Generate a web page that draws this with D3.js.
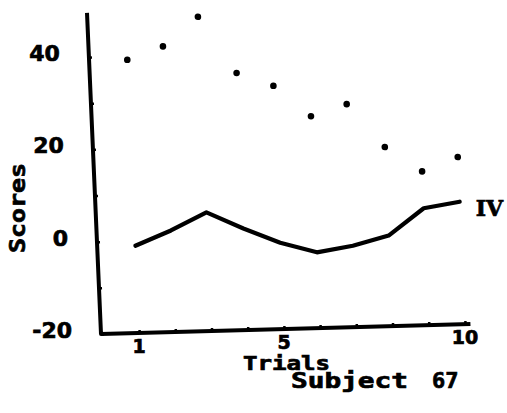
<!DOCTYPE html>
<html>
<head>
<meta charset="utf-8">
<script src="https://cdn.jsdelivr.net/npm/d3@7"></script>
<style>
  body { margin: 0; background: #fff; }
  svg { display: block; }
  text { fill: #000; stroke: #000; stroke-width: 0.7px; }
</style>
</head>
<body>
<div id="chart"></div>
<script>
// trial numbers and the two series
const trials = [1, 2, 3, 4, 5, 6, 7, 8, 9, 10];
const dotScores = [39.2, 41.9, 48.1, 35.7, 32.7, 25.9, 28.3, 18.8, 13.3, 16.2];
const lineScores = [-1.1, 2.0, 5.7, 2.0, -1.3, -3.6, -2.4, -0.4, 5.3, 6.5];
const yTicks = [-20, -10, 0, 10, 20, 30, 40];
const yLabels = [-20, 0, 20, 40];
const xLabels = [1, 5, 10];

const width = 507, height = 413;
// the scanned axes are a bit skewed, so everything is drawn in a sheared frame
const ox = 101, oy = 334, kx = 0.0436, ky = -0.0274;
const toPage = (u, v) => [ox + u + kx * v, oy + ky * u + v];

const x = d3.scaleLinear().domain([0, 10]).range([2, 364]);
const y = d3.scaleLinear().domain([-20, 50]).range([0, -323]);

const svg = d3.select("#chart").append("svg")
    .attr("width", width)
    .attr("height", height);

const plot = svg.append("g")
    .attr("transform", `matrix(1, ${ky}, ${kx}, 1, ${ox}, ${oy})`);

// tick nubs only, labels go on separately so the text is not sheared
plot.append("g")
    .call(d3.axisBottom(x).tickValues(trials).tickSize(-3).tickFormat(""))
    .call(g => g.select(".domain").remove())
    .selectAll("line").attr("stroke", "#000").attr("stroke-width", 2.5);

plot.append("g")
    .call(d3.axisLeft(y).tickValues(yTicks).tickSize(-3).tickFormat(""))
    .call(g => g.select(".domain").remove())
    .selectAll("line").attr("stroke", "#000").attr("stroke-width", 2.5);

// axis lines
plot.append("path")
    .attr("d", `M${x(10.15)},0 L0,0 L0,${y(49.6)}`)
    .attr("fill", "none")
    .attr("stroke", "#000")
    .attr("stroke-width", 4)
    .attr("stroke-linejoin", "round");

// solid series
const line = d3.line()
    .x(d => x(d.t))
    .y(d => y(d.s));

plot.append("path")
    .datum(trials.map((t, i) => ({ t, s: lineScores[i] })))
    .attr("d", line)
    .attr("fill", "none")
    .attr("stroke", "#000")
    .attr("stroke-width", 4.2)
    .attr("stroke-linejoin", "round")
    .attr("stroke-linecap", "round");

// dotted series
plot.selectAll(".dot")
    .data(trials.map((t, i) => ({ t, s: dotScores[i] })))
    .enter().append("circle")
    .attr("class", "dot")
    .attr("cx", d => x(d.t))
    .attr("cy", d => y(d.s))
    .attr("r", 3.3)
    .attr("fill", "#000");

// tick labels
svg.selectAll(".ylab")
    .data(yLabels)
    .enter().append("text")
    .attr("class", "ylab")
    .attr("x", d => toPage(0, y(d))[0] - 29)
    .attr("y", d => toPage(0, y(d))[1] + 4)
    .attr("text-anchor", "end")
    .style("font-family", "DejaVu Sans")
    .style("font-weight", "bold")
    .style("font-size", "22px")
    .text(d => d < 0 ? "-" + Math.abs(d) : d);

svg.selectAll(".xlab")
    .data(xLabels)
    .enter().append("text")
    .attr("class", "xlab")
    .attr("x", d => toPage(x(d), 0)[0])
    .attr("y", d => toPage(x(d), 0)[1] + 20)
    .attr("text-anchor", "middle")
    .style("font-family", "DejaVu Sans")
    .style("font-weight", "bold")
    .style("font-size", "19px")
    .text(d => d);

const mono = "DejaVu Sans Mono";

svg.append("text")
    .attr("transform", "translate(25,208) rotate(-90)")
    .attr("text-anchor", "middle")
    .attr("textLength", 90)
    .attr("lengthAdjust", "spacingAndGlyphs")
    .style("font-family", mono)
    .style("font-weight", "bold")
    .style("font-size", "21px")
    .text("Scores");

svg.append("text")
    .attr("x", 243)
    .attr("y", 370)
    .attr("textLength", 87)
    .attr("lengthAdjust", "spacingAndGlyphs")
    .style("font-family", mono)
    .style("font-weight", "bold")
    .style("font-size", "19px")
    .text("Trials");

svg.append("text")
    .attr("x", 291)
    .attr("y", 388)
    .attr("textLength", 117)
    .attr("lengthAdjust", "spacingAndGlyphs")
    .style("font-family", mono)
    .style("font-weight", "bold")
    .style("font-size", "21px")
    .text("Subject");

svg.append("text")
    .attr("x", 432)
    .attr("y", 388)
    .style("font-family", mono)
    .style("font-weight", "bold")
    .style("font-size", "22px")
    .text("67");

// series label at the end of the solid line
const end = toPage(x(10), y(lineScores[9]));
svg.append("text")
    .attr("x", end[0] + 16)
    .attr("y", end[1] + 14)
    .style("font-family", "DejaVu Serif")
    .style("font-weight", "bold")
    .style("font-size", "22px")
    .text("IV");
</script>
</body>
</html>
